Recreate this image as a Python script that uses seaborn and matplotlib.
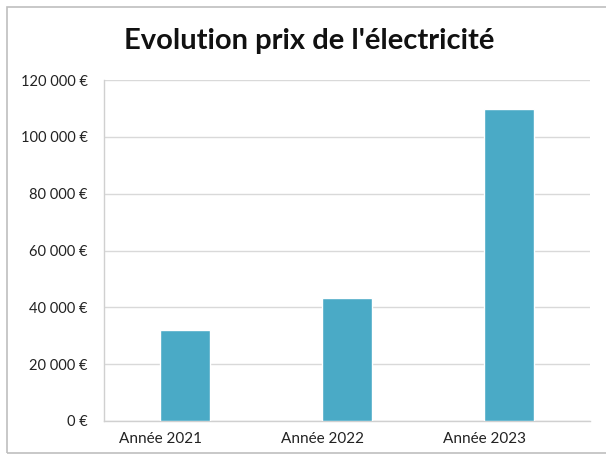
import matplotlib
matplotlib.use("Agg")
import matplotlib.pyplot as plt
import seaborn as sns
import pandas as pd
from matplotlib.patches import Rectangle
from matplotlib.ticker import FuncFormatter
from matplotlib.transforms import ScaledTranslation

# données
annees = ["Année 2021", "Année 2022", "Année 2023"]
prix = [32000, 43200, 110000]
graduations = [0, 20000, 40000, 60000, 80000, 100000, 120000]

df = pd.DataFrame({"annee": annees, "prix": prix})

sns.set_style("white")
plt.rcParams["font.family"] = ["Lato", "DejaVu Sans"]

fig = plt.figure(figsize=(6.06, 4.61), dpi=100)
ax = fig.add_axes([0.172, 0.087, 0.802, 0.739])

sns.barplot(data=df, x="annee", y="prix", color="#4aaac6", saturation=1,
            width=0.31, ax=ax, zorder=3)

ax.set_ylim(0, 120000)
ax.set_yticks(graduations)
ax.yaxis.set_major_formatter(FuncFormatter(lambda v, p: f"{int(v):,} €".replace(",", " ")))
ax.grid(axis="y", color="#d9d9d9", linewidth=1, zorder=0)
ax.set_xlabel("")
ax.set_ylabel("")

for s in ["top", "right"]:
    ax.spines[s].set_visible(False)
for s in ["left", "bottom"]:
    ax.spines[s].set_color("#d0d0d0")
    ax.spines[s].set_linewidth(1)

ax.tick_params(axis="y", length=0, pad=12, labelsize=10.5, labelcolor="#222222")
ax.tick_params(axis="x", length=0, pad=8, labelsize=11, labelcolor="#222222")

# les étiquettes de l'axe x sont un peu décalées vers la gauche
decalage = ScaledTranslation(-0.25, 0, fig.dpi_scale_trans)
for lab in ax.get_xticklabels():
    lab.set_transform(lab.get_transform() + decalage)

fig.text(0.51, 0.91, "Evolution prix de l'électricité", ha="center", va="center",
         fontsize=21, fontweight="bold", color="#111111")

# bordure du graphique
fig.patches.append(Rectangle((0.012, 0.018), 1.1, 0.967, transform=fig.transFigure,
                             fill=False, edgecolor="#bfbfbf", linewidth=1.2))

plt.savefig("out.png", dpi=100)
